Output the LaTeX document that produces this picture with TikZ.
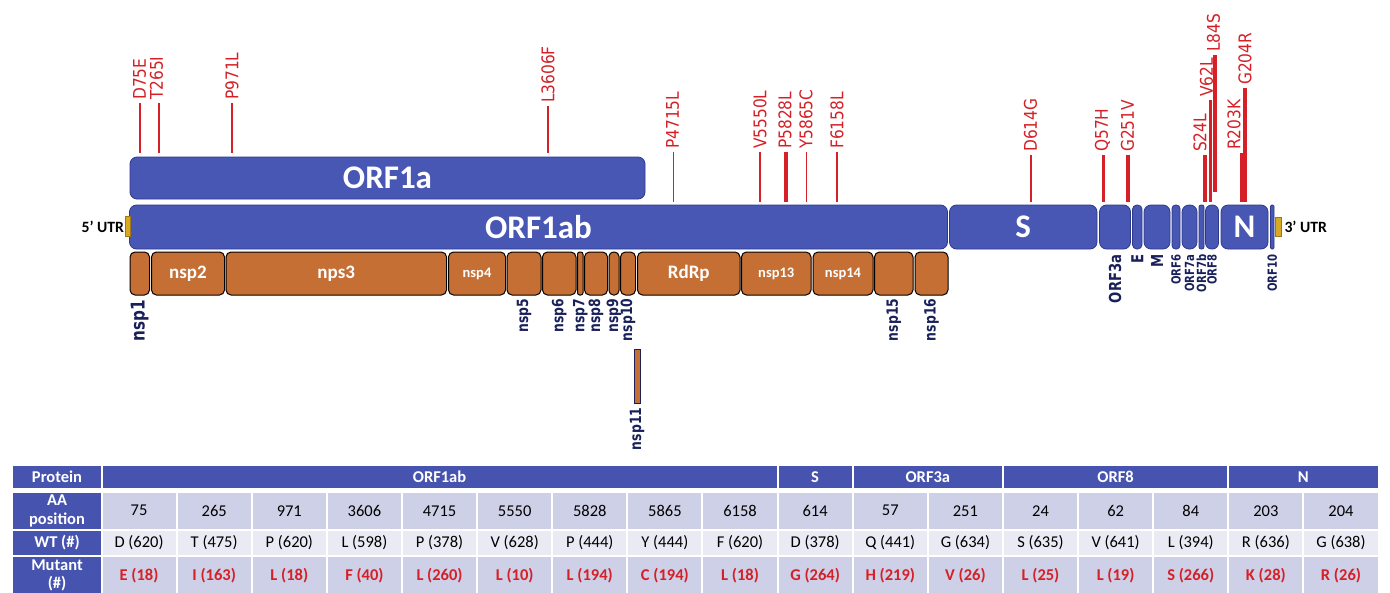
\documentclass[tikz,border=0pt]{standalone}
\usepackage{fontspec}
\setmainfont{Carlito}
\newfontfamily\mutfont[FakeStretch=0.88]{DejaVu Sans}
\newfontfamily\lblfont[FakeStretch=0.8]{DejaVu Sans}
\definecolor{geneblue}{RGB}{73,87,180}
\definecolor{geneedge}{RGB}{45,58,140}
\definecolor{nsporange}{RGB}{198,111,52}
\definecolor{tblue}{RGB}{70,84,176}
\definecolor{rowdark}{RGB}{206,208,231}
\definecolor{rowlight}{RGB}{233,234,244}
\definecolor{mutred}{RGB}{213,32,39}
\definecolor{navy}{RGB}{25,32,90}
\definecolor{utrgold}{RGB}{215,168,35}
\definecolor{utredge}{RGB}{160,120,20}
\begin{document}
\begin{tikzpicture}[x=1pt,y=-1pt,
  gene/.style={draw=geneedge,fill=geneblue,line width=0.8pt,inner sep=0pt,minimum height=44pt,text=white,font=\bfseries\fontsize{33}{33}\selectfont},
  nspbox/.style={draw=black,fill=nsporange,line width=1pt,inner sep=0pt,minimum height=43pt,text=white},
  mut/.style={rotate=90,anchor=west,inner sep=0pt,text=mutred,font=\mutfont\fontsize{17.5}{17.5}\selectfont},
  mutline/.style={draw=mutred},
  lbl/.style={rotate=90,anchor=east,inner sep=0pt,text=navy,font=\lblfont\bfseries\fontsize{15.5}{15.5}\selectfont},
  utr/.style={draw=utredge,fill=utrgold,line width=0.6pt,inner sep=0pt,minimum width=5pt,minimum height=20pt},
  cell/.style={inner sep=0pt,minimum width=73.1pt,align=center,font=\fontsize{16.5}{18.5}\selectfont},
  head/.style={cell,fill=tblue,text=white,font=\bfseries\fontsize{16.5}{18.5}\selectfont}]
\useasboundingbox (0,0) rectangle (1390,592);
\clip (0,0) rectangle (1390,592);
% genome
\node[gene,minimum width=515pt,minimum height=42pt,rounded corners=7pt] (orf1a) at (387.5,178) {ORF1a};
\foreach \nm/\xa/\xb/\txt in {orf1ab/129.5/947.5/ORF1ab, s/949.5/1097/S, orf3a/1099.5/1130.5/{}, e/1132.5/1142/{}, m/1144/1170/{}, orf6/1172/1180/{}, orf7a/1182/1197/{}, orf7b/1199/1204/{}, orf8/1205.5/1218.5/{}, n/1221/1268/N, orf10/1270.5/1274/{}}
{
  \pgfmathsetmacro\rr{min(7,(\xb-\xa)/2-0.5)}
  \node[gene,minimum width={(\xb-\xa)*1pt},rounded corners=\rr pt] (\nm) at ({(\xa+\xb)/2},227) {\txt};
}
\node[utr] (gold5) at (128,226.5) {};
\node[utr,minimum width=6pt,minimum height=19pt] (gold3) at (1278,226.5) {};
\node[anchor=east,inner sep=0pt,font=\bfseries\fontsize{15.7}{15.7}\selectfont] (utr5) at ([xshift=-1pt]gold5.west) {5’ UTR};
\node[anchor=west,inner sep=0pt,font=\bfseries\fontsize{15.7}{15.7}\selectfont] (utr3) at ([xshift=3pt]gold3.east) {3’ UTR};
% nsp
\foreach \nm/\xa/\xb/\txt/\fs in {nsp1/130/149.5/{}/19, nsp2/151.5/224.5/nsp2/19, nsp3/226/446.5/nps3/19, nsp4/448.5/505.5/nsp4/14.5, nsp5/507/541/{}/19, nsp6/542.5/576/{}/19, nsp7/577.5/583/{}/19, nsp8/584.5/607.5/{}/19, nsp9/609/619/{}/19, nsp10/620.5/635.5/{}/19, rdrp/637.5/740/RdRp/19, nsp13/741.5/811/nsp13/14.5, nsp14/813/873/nsp14/14.5, nsp15/874.5/913/{}/19, nsp16/915/948/{}/19}
{
  \pgfmathsetmacro\rr{min(5,(\xb-\xa)/2-0.5)}
  \node[nspbox,minimum width={(\xb-\xa)*1pt},rounded corners=\rr pt,font=\bfseries\fontsize{\fs}{\fs}\selectfont] (\nm) at ({(\xa+\xb)/2},273.5) {\txt};
}
\node[nspbox,draw=navy,minimum width=6pt,minimum height=54pt] (nsp11) at (637,376) {};
\node[lbl,font=\lblfont\bfseries\fontsize{19}{19}\selectfont] (l-nsp1) at ([yshift=-4pt]nsp1.south) {nsp1};
\foreach \nm in {nsp5,nsp6,nsp7,nsp8,nsp9,nsp10,nsp15,nsp16}
  \node[lbl] (l-\nm) at ([yshift=-3pt]\nm.south) {\nm};
\node[lbl] (l-nsp11) at ([yshift=-4pt]nsp11.south) {nsp11};
\foreach \nm/\txt in {orf3a/ORF3a, e/E, m/M}
  \node[lbl,font=\lblfont\bfseries\fontsize{16.5}{16.5}\selectfont] (l-\nm) at ([yshift=-5pt]\nm.south) {\txt};
\foreach \nm/\txt in {orf6/ORF6, orf7a/ORF7a, orf7b/ORF7b, orf8/ORF8, orf10/ORF10}
  \node[lbl,font=\lblfont\bfseries\fontsize{12.6}{12.6}\selectfont] (l-\nm) at ([yshift=-5pt]\nm.south) {\txt};
% mutations
\foreach \lab/\tx/\lx/\ly/\lw/\bx/\gap in {D75E/139.5/140/103/1.3/orf1a/4, T265I/156.5/159/103/1.3/orf1a/4, P971L/232/232/103/1.3/orf1a/4, L3606F/548/548/106/1.3/orf1a/4, P4715L/672.5/673.5/152/1.3/orf1ab/3, V5550L/760/760/152/1.3/orf1ab/3, P5828L/785/786/152/3.5/orf1ab/3, Y5865C/806/806.5/152/1.8/orf1ab/3, F6158L/837/837/152/1.3/orf1ab/3, D614G/1030.5/1031/155/1.3/s/3, Q57H/1102.5/1103.5/155/3.5/orf3a/3, G251V/1127.5/1128/155/3.5/orf3a/3, S24L/1200/1205/155/3.5/orf8/3, V62L/1206.5/1210.5/100/3.5/orf8/3, L84S/1213.5/1215/55/3.5/orf8/13, R203K/1234/1241.5/153/3.5/n/3, G204R/1245/1245/88/3.5/n/3}
{
  \coordinate (t\lab) at (\lx,\ly);
  \node[mut] (m\lab) at ({\tx},{\ly-3}) {\lab};
  \draw[mutline,line width=\lw pt] (t\lab) -- ([yshift=\gap pt]t\lab |- \bx.north);
}
% table
\node[head,minimum width=88pt,minimum height=22pt] (hprot) at (57,477) {Protein};
\foreach \nm/\a/\b/\txt in {h1ab/0/8/ORF1ab, hs/9/9/S, h3a/10/11/ORF3a, h8/12/14/ORF8, hn/15/16/N}
  \node[head,minimum width={((\b-\a+1)*75.12-2)*1pt},minimum height=22pt] (\nm) at ({101.5+(\a+\b+1)*37.56},477) {\txt};
\node[head,minimum width=88pt,minimum height=35.5pt] (raa) at (57,510.75) {AA\\position};
\node[head,minimum width=88pt,minimum height=24.5pt] (rwt) at (57,542.75) {WT (\#)};
\node[head,minimum width=88pt,minimum height=37pt] (rmut) at (57,575.5) {Mutant\\(\#)};
\foreach \p/\w/\mt [count=\i from 0] in {75/D (620)/E (18), 265/T (475)/I (163), 971/P (620)/L (18), 3606/L (598)/F (40), 4715/P (378)/L (260), 5550/V (628)/L (10), 5828/P (444)/L (194), 5865/Y (444)/C (194), 6158/F (620)/L (18), 614/D (378)/G (264), 57/Q (441)/H (219), 251/G (634)/V (26), 24/S (635)/L (25), 62/V (641)/L (19), 84/L (394)/S (266), 203/R (636)/K (28), 204/G (638)/R (26)}
{
  \node[cell,fill=rowdark,minimum height=35.5pt] (aa\i) at ({101.5+(2*\i+1)*37.56},510.75) {\p};
  \node[cell,fill=rowlight,minimum height=24.5pt] (wt\i) at ({101.5+(2*\i+1)*37.56},542.75) {\w};
  \node[cell,fill=rowdark,minimum height=37pt,text=mutred,font=\bfseries\fontsize{16.5}{18.5}\selectfont] (mt\i) at ({101.5+(2*\i+1)*37.56},575.5) {\mt};
}
\end{tikzpicture}
\end{document}
